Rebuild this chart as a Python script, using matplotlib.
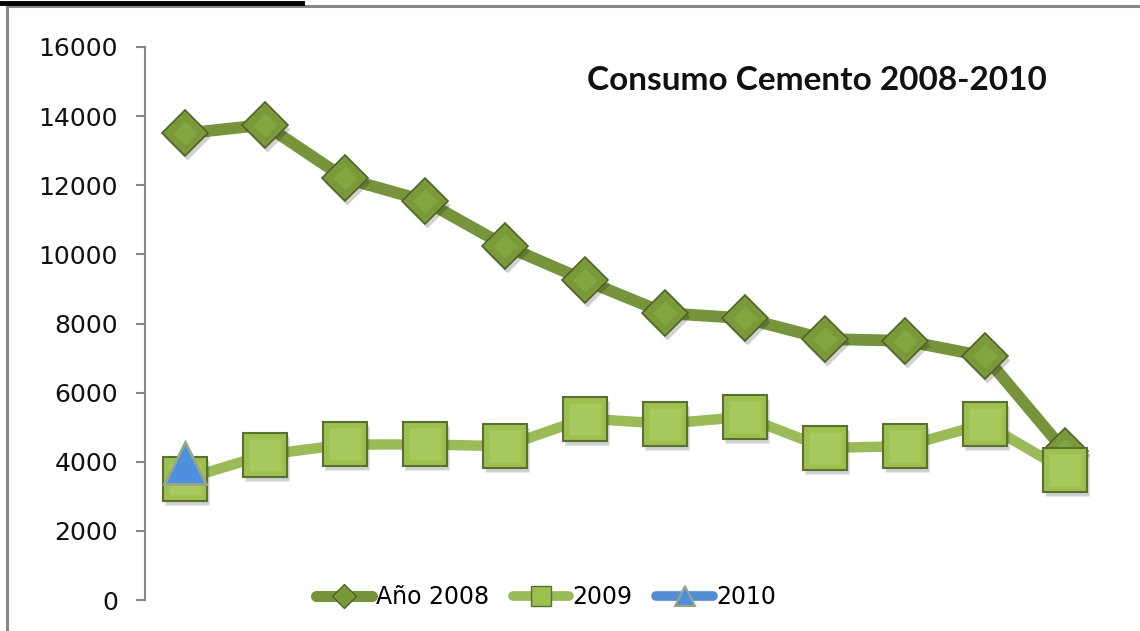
import numpy as np
import matplotlib
matplotlib.use("Agg")
import matplotlib.pyplot as plt
from matplotlib.lines import Line2D
from matplotlib.transforms import offset_copy

# consumo mensual de cemento (12 meses, sin etiquetas en el eje)
meses = np.arange(12)
anio_2008 = [13500, 13750, 12200, 11550, 10250, 9250, 8300, 8150, 7550, 7500, 7050, 4300]
anio_2009 = [3500, 4200, 4500, 4500, 4450, 5250, 5100, 5300, 4400, 4450, 5100, 3750]
anio_2010 = [3950] + [np.nan] * 11
y_ticks = list(range(0, 16001, 2000))

C08_LINE = "#77933C"; C08_FILL = "#7A9A3A"; C08_EDGE = "#4F6228"
C09_LINE = "#9BBB59"; C09_FILL = "#9DC04E"; C09_EDGE = "#5A7030"
C10_LINE = "#558ED5"; C10_FILL = "#4F8FE0"; C10_EDGE = "#97A68A"
GRAY = "#888888"

fig = plt.figure(figsize=(11.4, 6.31), dpi=100)
ax = fig.add_axes([145/1140, 31/631, 960/1140, 553/631])

def shadow(x, y, marker, ms, z):
    tr = offset_copy(ax.transData, fig=fig, x=2, y=-4, units="dots")
    ax.plot(x, y, ls="none", marker=marker, ms=ms, mfc="#000000", mec="none",
            alpha=0.18, transform=tr, zorder=z)

# 2008
ax.plot(meses, anio_2008, color=C08_LINE, lw=8.5, solid_joinstyle="round", zorder=2)
shadow(meses, anio_2008, "D", 23.5, 2.5)
ax.plot(meses, anio_2008, ls="none", marker="D", ms=23.5, mfc=C08_FILL, mec=C08_EDGE, mew=1.2, zorder=3)
ax.plot(meses, anio_2008, ls="none", marker="D", ms=12, mfc="#8CAE48", mec="none", alpha=0.6, zorder=3.1)

# 2009
ax.plot(meses, anio_2009, color=C09_LINE, lw=7.5, solid_joinstyle="round", zorder=4)
shadow(meses, anio_2009, "s", 31, 4.5)
ax.plot(meses, anio_2009, ls="none", marker="s", ms=31, mfc=C09_FILL, mec=C09_EDGE, mew=1.5, zorder=5)
ax.plot(meses, anio_2009, ls="none", marker="s", ms=23, mfc="#A8C95E", mec="none", zorder=5.1)

# 2010
ax.plot(meses, anio_2010, color=C10_LINE, lw=7.5, zorder=6)
ax.plot(meses, anio_2010, ls="none", marker="^", ms=30, mfc=C10_FILL, mec=C10_EDGE, mew=2, zorder=7)

ax.set_xlim(-0.5, 11.5)
ax.set_ylim(0, 16000)
ax.set_yticks(y_ticks)
ax.set_xticks([])
for s in ("top", "right", "bottom"):
    ax.spines[s].set_visible(False)
ax.spines["left"].set_color(GRAY)
ax.spines["left"].set_linewidth(1.5)
ax.tick_params(axis="y", direction="out", length=6.5, width=1.5, color=GRAY,
               pad=13, labelsize=18, labelcolor="#111111")
ax.patch.set_alpha(0)

ax.text(0.70, 0.94, "Consumo Cemento 2008-2010", transform=ax.transAxes, ha="center", va="center",
        fontsize=24, fontweight="bold", family="Lato", color="#111111")

handles = [
    Line2D([], [], color=C08_LINE, lw=8, solid_capstyle="round", marker="D", ms=12,
           mfc=C08_FILL, mec=C08_EDGE),
    Line2D([], [], color=C09_LINE, lw=7, solid_capstyle="round", marker="s", ms=15,
           mfc=C09_FILL, mec=C09_EDGE),
    Line2D([], [], color=C10_LINE, lw=7, solid_capstyle="round", marker="^", ms=15,
           mfc=C10_FILL, mec=C10_EDGE, mew=1.5),
]
fig.legend(handles, ["Año 2008", "2009", "2010"], loc="center", bbox_to_anchor=(546/1140, 34/631),
           ncol=3, frameon=False, fontsize=17, handlelength=2.4, handletextpad=0.15,
           columnspacing=1.0, borderpad=0)

# marco del gráfico
fig.add_artist(Line2D([7/1140, 7/1140], [0, 1 - 6/631], color=GRAY, lw=2.2))
fig.add_artist(Line2D([7/1140, 1], [1 - 6/631, 1 - 6/631], color=GRAY, lw=2.2))
fig.add_artist(Line2D([0, 302/1140], [1 - 2.5/631, 1 - 2.5/631], color="black", lw=3.5))

fig.savefig("out.png", dpi=100)
